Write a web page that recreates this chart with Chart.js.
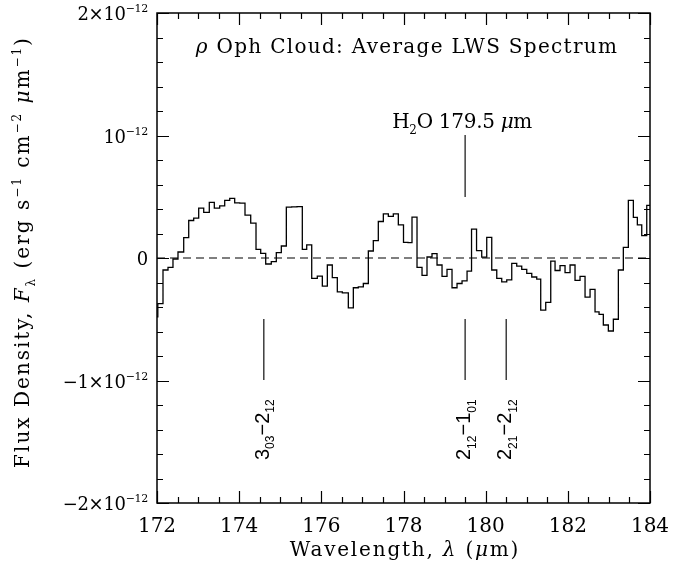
<!DOCTYPE html>
<html>
<head>
<meta charset="utf-8">
<script src="https://cdn.jsdelivr.net/npm/chart.js@4.4.0/dist/chart.umd.min.js"></script>
<style>
  html, body { margin: 0; padding: 0; background: #fff; }
</style>
</head>
<body>
<canvas id="chart" width="697" height="569"></canvas>
<script>
// bin edges of the averaged spectrum (µm)
const binEdges = [
  171.83, 172.02, 172.146, 172.268, 172.389, 172.511, 172.650, 172.772, 172.893, 173.015,
  173.137, 173.273, 173.395, 173.526, 173.648, 173.770, 173.891, 174.013, 174.142, 174.281,
  174.410, 174.524, 174.646, 174.782, 174.904, 175.026, 175.148, 175.277, 175.408, 175.537,
  175.644, 175.766, 175.902, 176.024, 176.146, 176.267, 176.389, 176.511, 176.657, 176.779,
  176.900, 177.022, 177.144, 177.265, 177.387, 177.509, 177.631, 177.752, 177.874, 178.000,
  178.110, 178.207, 178.329, 178.451, 178.572, 178.694, 178.816, 178.938, 179.059, 179.181,
  179.303, 179.425, 179.547, 179.656, 179.778, 179.904, 180.026, 180.148, 180.270, 180.391,
  180.513, 180.635, 180.756, 180.878, 181.000, 181.122, 181.243, 181.340, 181.462, 181.584,
  181.689, 181.810, 181.932, 182.054, 182.175, 182.297, 182.419, 182.541, 182.662, 182.760,
  182.864, 182.986, 183.108, 183.230, 183.351, 183.473, 183.595, 183.692, 183.799, 183.921,
  184.05
];

// flux in each bin, units of 1e-12 erg s-1 cm-2 µm-1
const fluxValues = [
  -0.48, -0.372, -0.098, -0.077, -0.008, 0.049, 0.167, 0.306, 0.325, 0.407,
  0.372, 0.454, 0.407, 0.426, 0.470, 0.486, 0.45, 0.448, 0.35, 0.284,
  0.071, 0.038, -0.049, -0.03, 0.044, 0.098, 0.415, 0.418, 0.42, 0.071,
  0.107, -0.167, -0.148, -0.23, -0.057, -0.161, -0.276, -0.284, -0.407, -0.243,
  -0.235, -0.208, 0.057, 0.142, 0.298, 0.36, 0.339, 0.36, 0.27, 0.128,
  0.126, 0.333, -0.077, -0.142, 0.008, 0.036, -0.057, -0.15, -0.093, -0.243,
  -0.208, -0.186, -0.107, 0.235, 0.06, 0.007, 0.168, -0.098, -0.167, -0.195,
  -0.178, -0.044, -0.066, -0.093, -0.126, -0.155, -0.173, -0.426, -0.363, -0.025,
  -0.102, -0.063, -0.12, -0.057, -0.183, -0.15, -0.32, -0.256, -0.44, -0.46,
  -0.547, -0.596, -0.50, -0.098, 0.087, 0.47, 0.332, 0.27, 0.182, 0.43
];

const xTickValues = [172, 174, 176, 178, 180, 182, 184];
const yTickValues = [2, 1, 0, -1, -2];
const yTickMantissa = ['2×10', '10', '0', '−1×10', '−2×10'];
const yTickExponent = ['−12', '−12', '', '−12', '−12'];

// H2O line positions (µm) and their labels
const waterLine = 179.5;
const transitionLines = [174.6, 179.5, 180.5];
const transitionLabels = [
  [['3', ''], ['03', 'sub'], ['−2', ''], ['12', 'sub']],
  [['2', ''], ['12', 'sub'], ['−1', ''], ['01', 'sub']],
  [['2', ''], ['21', 'sub'], ['−2', ''], ['12', 'sub']]
];

const SERIF = '"DejaVu Serif", serif';
const SANS = '"Liberation Sans", Arial, sans-serif';

// текст с индексами: сегменты [строка, вид]
function drawRich(ctx, segs, x, y, size, family, align, angle, spacing) {
  const fontFor = (k) => {
    const small = k === 'sub' || k === 'sup';
    return (k === 'it' ? 'italic ' : '') + (small ? Math.round(size * 0.62) : size) + 'px ' + family;
  };
  ctx.save();
  ctx.translate(x, y);
  ctx.rotate(angle || 0);
  ctx.textAlign = 'left';
  ctx.textBaseline = 'alphabetic';
  ctx.fillStyle = '#000';
  ctx.letterSpacing = (spacing || 0) + 'px';
  let w = 0;
  segs.forEach(([t, k]) => { ctx.font = fontFor(k); w += ctx.measureText(t).width; });
  let cx = align === 'center' ? -w / 2 : align === 'right' ? -w : 0;
  segs.forEach(([t, k]) => {
    ctx.font = fontFor(k);
    const dy = k === 'sup' ? -size * 0.42 : k === 'sub' ? size * 0.28 : 0;
    ctx.fillText(t, cx, dy);
    cx += ctx.measureText(t).width;
  });
  ctx.restore();
}

const decor = {
  id: 'decor',
  beforeDatasetsDraw(chart) {
    const { ctx, chartArea: a, scales: { y } } = chart;
    const y0 = y.getPixelForValue(0);
    ctx.save();
    ctx.strokeStyle = '#000';
    ctx.lineWidth = 1.2;
    ctx.setLineDash([8, 5]);
    ctx.beginPath();
    ctx.moveTo(a.left, y0);
    ctx.lineTo(a.right, y0);
    ctx.stroke();
    ctx.restore();
  },
  afterDraw(chart) {
    const { ctx, chartArea: a, scales: { x, y } } = chart;
    ctx.save();
    ctx.strokeStyle = '#000';
    ctx.lineWidth = 1.5;
    ctx.strokeRect(a.left, a.top, a.right - a.left, a.bottom - a.top);

    // засечки внутрь рамки со всех сторон
    ctx.lineWidth = 1.2;
    ctx.beginPath();
    for (let v = x.min; v <= x.max + 1e-9; v += 0.5) {
      const px = Math.round(x.getPixelForValue(v)) + 0.5;
      const len = Math.abs(v % 2) < 1e-9 ? 12 : 6;
      ctx.moveTo(px, a.bottom); ctx.lineTo(px, a.bottom - len);
      ctx.moveTo(px, a.top); ctx.lineTo(px, a.top + len);
    }
    for (let v = y.min; v <= y.max + 1e-9; v += 0.2) {
      const py = Math.round(y.getPixelForValue(v)) + 0.5;
      const len = Math.abs(v - Math.round(v)) < 1e-6 ? 12 : 6;
      ctx.moveTo(a.left, py); ctx.lineTo(a.left + len, py);
      ctx.moveTo(a.right, py); ctx.lineTo(a.right - len, py);
    }
    ctx.stroke();

    // подписи оси Y
    yTickValues.forEach((v, i) => {
      const py = y.getPixelForValue(v);
      const segs = [[yTickMantissa[i], '']];
      if (yTickExponent[i]) segs.push([yTickExponent[i], 'sup']);
      drawRich(ctx, segs, 148, py + 7, 18, SERIF, 'right', 0, -0.3);
    });

    // линии H2O
    ctx.lineWidth = 1.3;
    ctx.strokeStyle = '#222';
    ctx.beginPath();
    const wx = x.getPixelForValue(waterLine);
    ctx.moveTo(wx, 135); ctx.lineTo(wx, 197);
    transitionLines.forEach((l) => {
      const px = x.getPixelForValue(l);
      ctx.moveTo(px, 319); ctx.lineTo(px, 380);
    });
    ctx.stroke();

    transitionLabels.forEach((segs, i) => {
      const px = x.getPixelForValue(transitionLines[i]);
      drawRich(ctx, segs, px + 5, 460, 20, SANS, 'left', -Math.PI / 2, 0);
    });

    drawRich(ctx, [['H', ''], ['2', 'sub'], ['O 179.5 ', ''], ['μ', 'it'], ['m', '']],
      wx - 3, 128, 20, SERIF, 'center', 0, -0.3);

    drawRich(ctx, [['ρ', 'it'], [' Oph Cloud: Average LWS Spectrum', '']],
      407, 53, 20, SERIF, 'center', 0, 1.3);

    drawRich(ctx, [['Wavelength, ', ''], ['λ', 'it'], [' (', ''], ['μ', 'it'], ['m)', '']],
      405, 556, 20, SERIF, 'center', 0, 1.8);

    drawRich(ctx, [
      ['Flux Density, ', ''], ['F', 'it'], ['λ', 'sub'], [' (erg s', ''], ['−1', 'sup'],
      [' cm', ''], ['−2', 'sup'], [' ', ''], ['μ', 'it'], ['m', ''], ['−1', 'sup'], [')', '']
    ], 29, 252, 20, SERIF, 'center', -Math.PI / 2, 2);
    ctx.restore();
  }
};

const points = fluxValues.map((v, i) => ({ x: binEdges[i], y: v }));
points.push({ x: binEdges[binEdges.length - 1], y: fluxValues[fluxValues.length - 1] });

const chart = new Chart(document.getElementById('chart').getContext('2d'), {
  type: 'line',
  data: {
    datasets: [{
      data: points,
      stepped: 'before',
      borderColor: '#000',
      borderWidth: 1.3,
      pointRadius: 0,
      fill: false
    }]
  },
  options: {
    responsive: false,
    animation: false,
    events: [],
    layout: { padding: { left: 0, right: 47, top: 13, bottom: 0 } },
    plugins: { legend: { display: false }, tooltip: { enabled: false } },
    scales: {
      x: {
        type: 'linear',
        min: 172,
        max: 184,
        border: { display: false },
        grid: { display: false },
        afterBuildTicks: (scale) => { scale.ticks = xTickValues.map((v) => ({ value: v })); },
        ticks: {
          autoSkip: false,
          maxRotation: 0,
          padding: 4,
          color: '#000',
          font: { family: SERIF, size: 20 },
          callback: (v) => String(v)
        },
        afterFit: (s) => { s.height = 66; s.paddingLeft = 0; s.paddingRight = 0; }
      },
      y: {
        min: -2,
        max: 2,
        border: { display: false },
        grid: { display: false },
        ticks: { display: false },
        afterFit: (s) => { s.width = 157; s.paddingTop = 0; s.paddingBottom = 0; }
      }
    }
  },
  plugins: [decor]
});
</script>
</body>
</html>
